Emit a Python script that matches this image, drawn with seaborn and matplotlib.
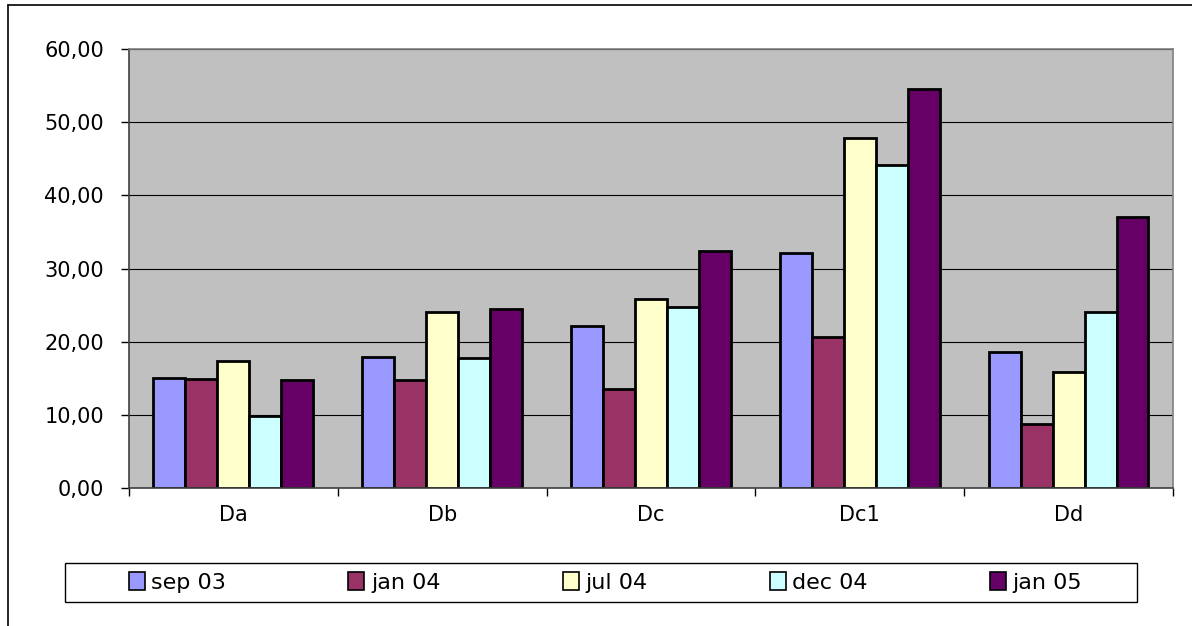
import numpy as np
import pandas as pd
import seaborn as sns
import matplotlib.pyplot as plt
from matplotlib.lines import Line2D
from matplotlib.patches import Rectangle
from matplotlib.ticker import FuncFormatter, FixedLocator

categories = ["Da", "Db", "Dc", "Dc1", "Dd"]
periods = ["sep 03", "jan 04", "jul 04", "dec 04", "jan 05"]
sep_03 = [15.1, 17.9, 22.2, 32.1, 18.6]
jan_04 = [14.9, 14.8, 13.5, 20.6, 8.8]
jul_04 = [17.4, 24.1, 25.8, 47.9, 15.9]
dec_04 = [9.9, 17.8, 24.7, 44.1, 24.1]
jan_05 = [14.7, 24.4, 32.4, 54.5, 37.0]
colors = ["#9999FF", "#993366", "#FFFFCC", "#CCFFFF", "#660066"]

series = [sep_03, jan_04, jul_04, dec_04, jan_05]
rows = []
for period, vals in zip(periods, series):
    for cat, v in zip(categories, vals):
        rows.append({"cat": cat, "period": period, "value": v})
df = pd.DataFrame(rows)

sns.set_style("white")
plt.rcParams["font.family"] = ["DejaVu Sans"]
plt.rcParams["text.color"] = "black"
plt.rcParams["xtick.color"] = "black"
plt.rcParams["ytick.color"] = "black"

fig = plt.figure(figsize=(11.92, 6.26), dpi=100)
ax = fig.add_axes([0.1082, 0.2204, 0.984 - 0.1082, 0.9217 - 0.2204])
ax.set_facecolor("#C0C0C0")

sns.barplot(data=df, x="cat", y="value", hue="period", order=categories,
            hue_order=periods, palette=colors, saturation=1, width=0.766,
            edgecolor="black", linewidth=2.0, errorbar=None, ax=ax)

ax.set_ylim(0, 60)
ax.set_xlim(-0.5, 4.5)
ax.set_yticks(np.arange(0, 61, 10))
ax.yaxis.set_major_formatter(FuncFormatter(lambda v, p: f"{v:.2f}".replace(".", ",")))
ax.grid(axis="y", color="black", linewidth=0.8)
ax.set_axisbelow(True)
ax.set_xlabel("")
ax.set_ylabel("")

ax.tick_params(axis="y", which="major", length=6, width=1, color="black",
               labelsize=15, pad=12, left=True)
ax.tick_params(axis="x", which="major", length=0, labelsize=15, pad=12)
ax.xaxis.set_minor_locator(FixedLocator([-0.5, 0.5, 1.5, 2.5, 3.5, 4.5]))
ax.tick_params(axis="x", which="minor", length=6, width=1, color="black", bottom=True)

for side in ["left", "bottom"]:
    ax.spines[side].set_color("#404040")
    ax.spines[side].set_linewidth(1.2)
for side in ["top", "right"]:
    ax.spines[side].set_color("#808080")
    ax.spines[side].set_linewidth(1.2)

handles, labels = ax.get_legend_handles_labels()
ax.legend_.remove()
leg = fig.legend(handles, labels, ncol=5, loc="center",
                 bbox_to_anchor=(0.508, 0.0695), frameon=False,
                 fontsize=16, handlelength=0.72, handleheight=0.9,
                 handletextpad=0.3, columnspacing=5.5, borderaxespad=0)
for h in leg.legend_handles:
    h.set_linewidth(1.2)

# legend box and outer chart frame
fig.add_artist(Rectangle((65 / 1192, 1 - 602 / 626), (1137 - 65) / 1192, 39 / 626,
                         transform=fig.transFigure, fill=False, edgecolor="black",
                         linewidth=1.0))
fig.add_artist(Line2D([8 / 1192, 8 / 1192], [0, 1 - 5 / 626], color="black", linewidth=1.2))
fig.add_artist(Line2D([8 / 1192, 1], [1 - 5 / 626, 1 - 5 / 626], color="black", linewidth=1.2))

fig.savefig("out.png", dpi=100)
